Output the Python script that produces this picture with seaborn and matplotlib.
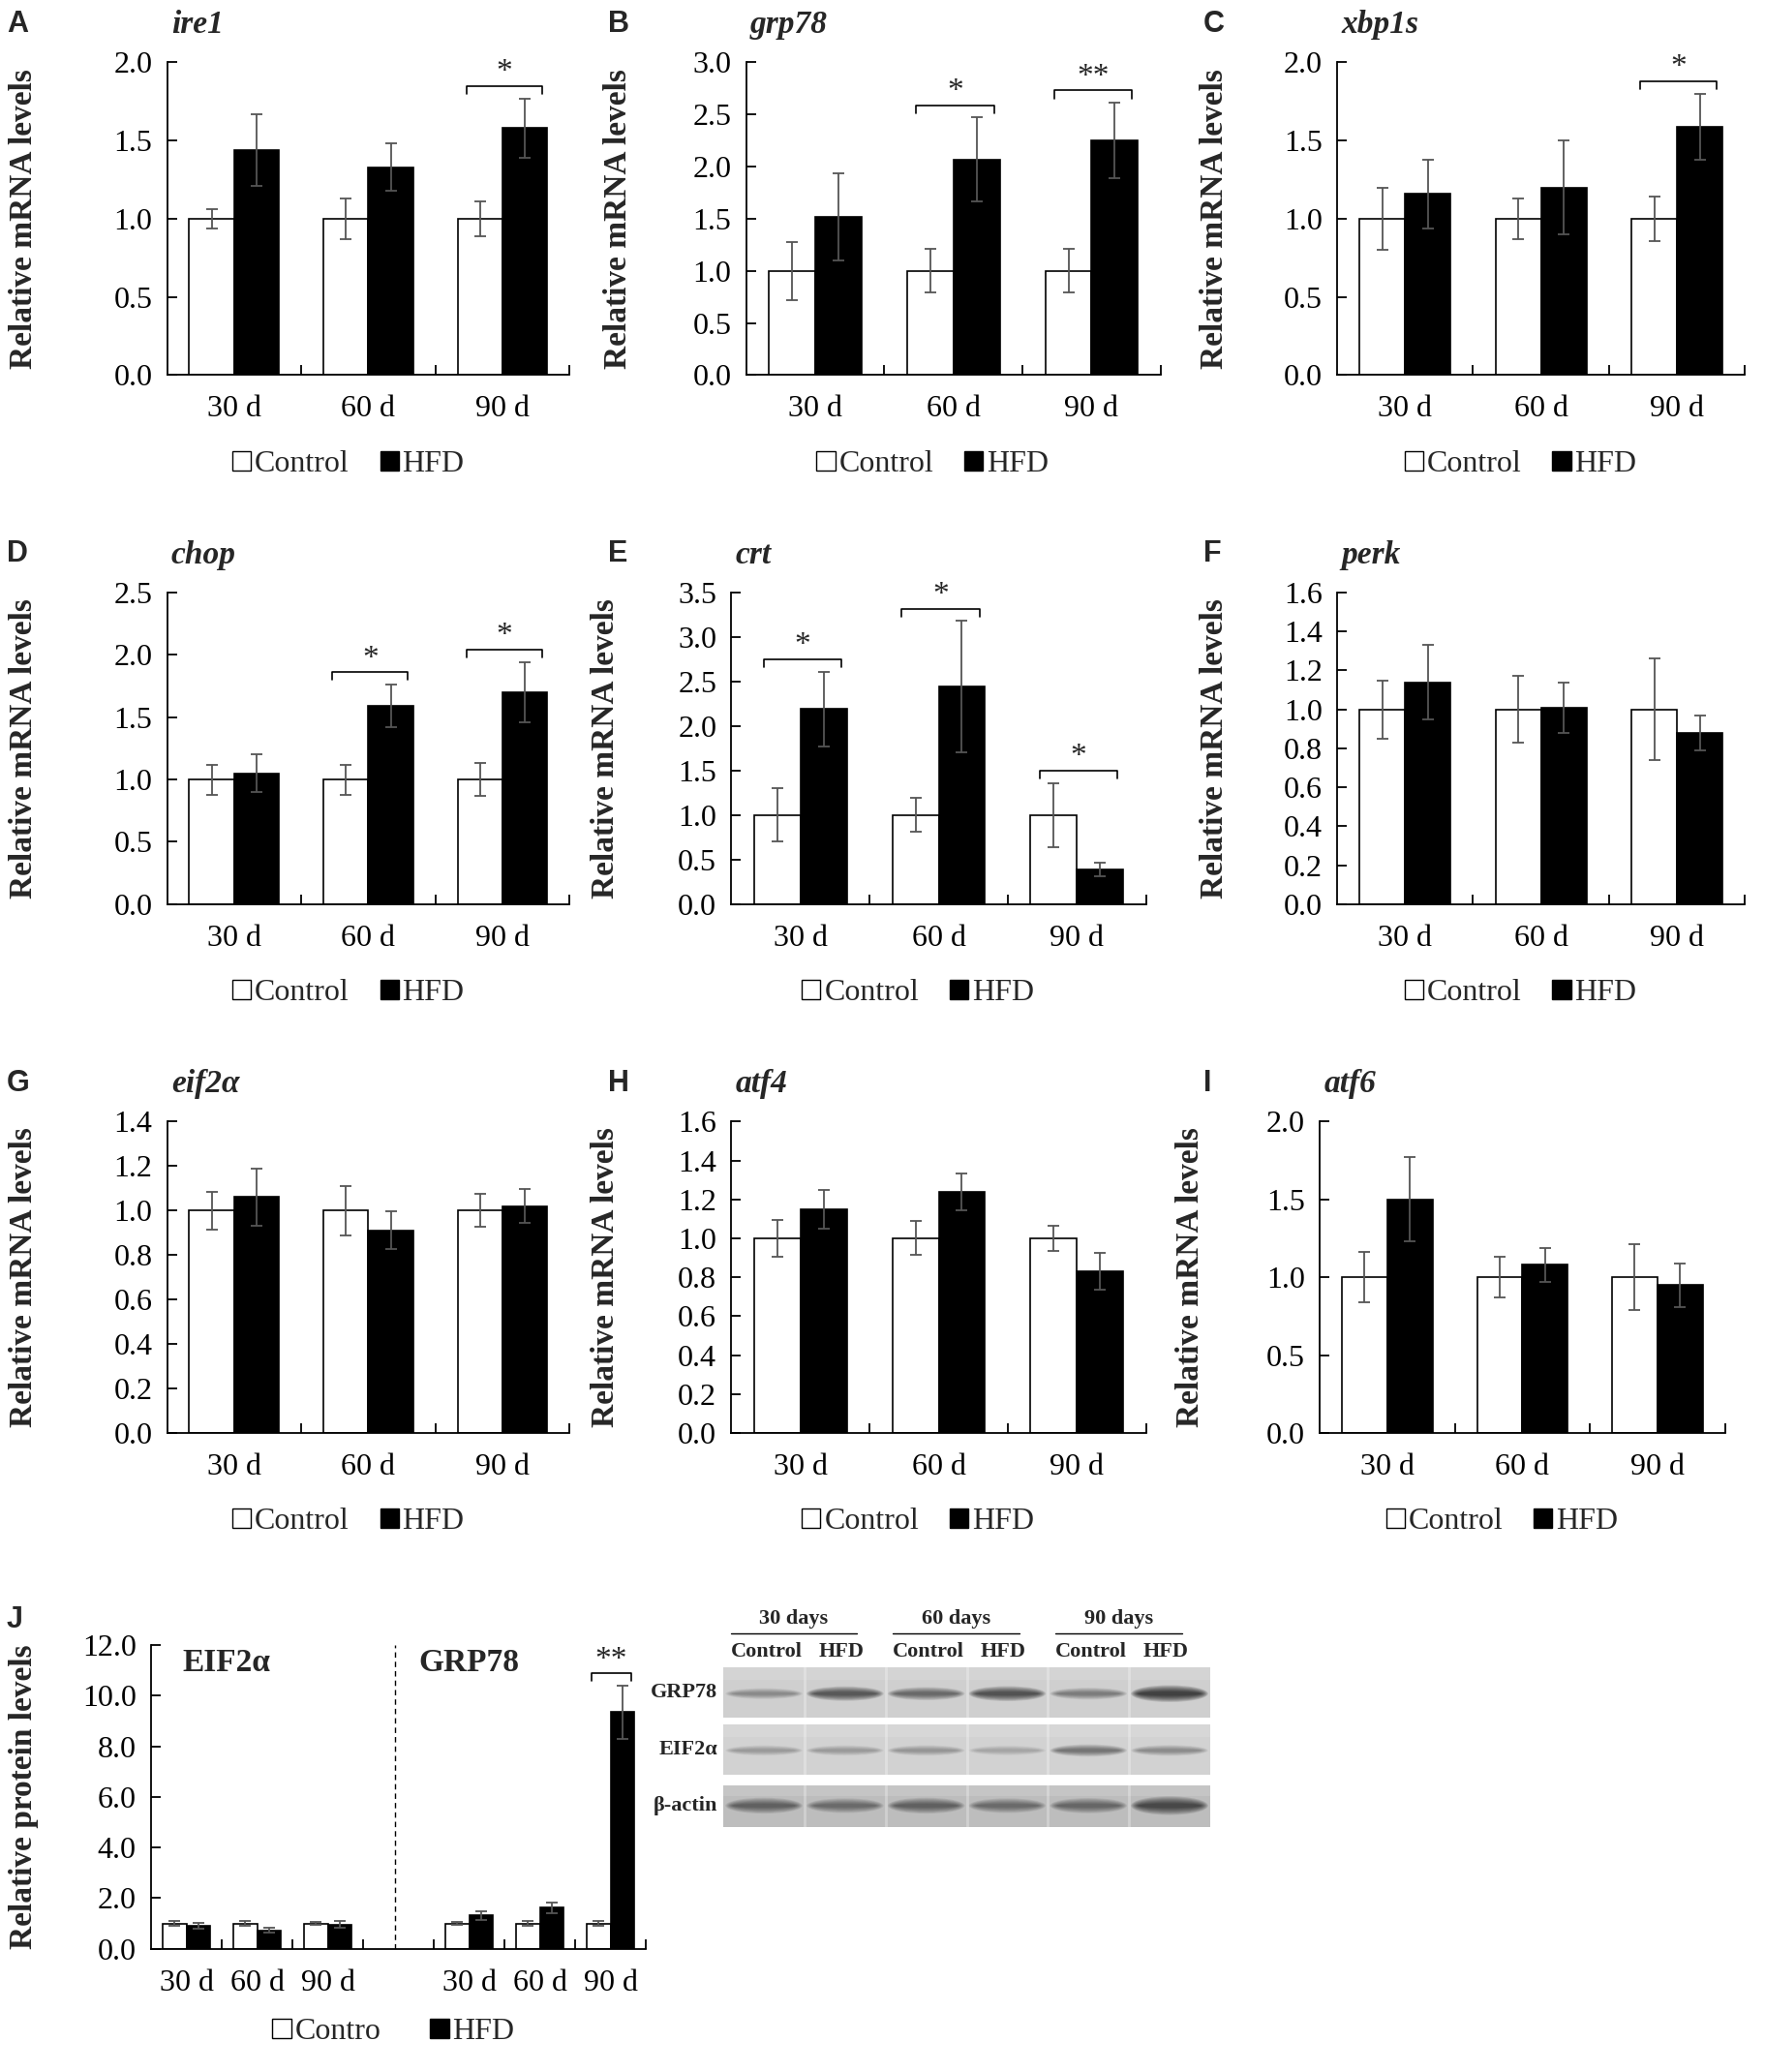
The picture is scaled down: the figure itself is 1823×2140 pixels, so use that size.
"""
ER stress gene / protein expression panels (A-J) with a western blot strip.
"""

import matplotlib
matplotlib.use("Agg")
import matplotlib.pyplot as plt
import seaborn as sns
import numpy as np
import pandas as pd
from matplotlib.patches import Patch, Rectangle, Ellipse

sns.set_theme(style="white")
plt.rcParams['font.family'] = ['Liberation Serif', 'DejaVu Serif']
plt.rcParams['axes.edgecolor'] = 'black'

# ---------------- data ----------------
days = ['30 d', '60 d', '90 d']
groups = ['Control', 'HFD']

ire1_ctrl = [1.0, 1.0, 1.0]
ire1_ctrl_err = [0.06, 0.13, 0.11]
ire1_hfd = [1.44, 1.33, 1.58]
ire1_hfd_err = [0.23, 0.15, 0.19]
ire1_sig = ['', '', '*']

grp78_ctrl = [1.0, 1.0, 1.0]
grp78_ctrl_err = [0.28, 0.21, 0.21]
grp78_hfd = [1.52, 2.07, 2.25]
grp78_hfd_err = [0.42, 0.40, 0.36]
grp78_sig = ['', '*', '**']

xbp1s_ctrl = [1.0, 1.0, 1.0]
xbp1s_ctrl_err = [0.20, 0.13, 0.14]
xbp1s_hfd = [1.16, 1.20, 1.59]
xbp1s_hfd_err = [0.22, 0.30, 0.21]
xbp1s_sig = ['', '', '*']

chop_ctrl = [1.0, 1.0, 1.0]
chop_ctrl_err = [0.12, 0.12, 0.13]
chop_hfd = [1.05, 1.59, 1.70]
chop_hfd_err = [0.15, 0.17, 0.24]
chop_sig = ['', '*', '*']

crt_ctrl = [1.0, 1.0, 1.0]
crt_ctrl_err = [0.30, 0.19, 0.36]
crt_hfd = [2.19, 2.44, 0.39]
crt_hfd_err = [0.42, 0.74, 0.08]
crt_sig = ['*', '*', '*']

perk_ctrl = [1.0, 1.0, 1.0]
perk_ctrl_err = [0.15, 0.17, 0.26]
perk_hfd = [1.14, 1.01, 0.88]
perk_hfd_err = [0.19, 0.13, 0.09]
perk_sig = ['', '', '']

eif2a_ctrl = [1.0, 1.0, 1.0]
eif2a_ctrl_err = [0.085, 0.11, 0.075]
eif2a_hfd = [1.06, 0.91, 1.02]
eif2a_hfd_err = [0.13, 0.085, 0.075]
eif2a_sig = ['', '', '']

atf4_ctrl = [1.0, 1.0, 1.0]
atf4_ctrl_err = [0.095, 0.087, 0.065]
atf4_hfd = [1.15, 1.24, 0.83]
atf4_hfd_err = [0.10, 0.095, 0.095]
atf4_sig = ['', '', '']

atf6_ctrl = [1.0, 1.0, 1.0]
atf6_ctrl_err = [0.16, 0.13, 0.21]
atf6_hfd = [1.50, 1.08, 0.95]
atf6_hfd_err = [0.27, 0.11, 0.14]
atf6_sig = ['', '', '']

# panel J (protein levels), EIF2a then GRP78
prot_slots = ['e30', 'e60', 'e90', 'gap', 'g30', 'g60', 'g90']
prot_ticklabels = ['30 d', '60 d', '90 d', '', '30 d', '60 d', '90 d']
prot_keys = ['e30', 'e60', 'e90', 'g30', 'g60', 'g90']
prot_ctrl = [1.0, 1.0, 1.0, 1.0, 1.0, 1.0]
prot_ctrl_err = [0.10, 0.10, 0.05, 0.05, 0.10, 0.10]
prot_hfd = [0.90, 0.72, 0.96, 1.32, 1.62, 9.35]
prot_hfd_err = [0.12, 0.10, 0.12, 0.17, 0.20, 1.05]
prot_sig = ['', '', '', '', '', '**']

# western blot band strength per lane (30d C, 30d H, 60d C, 60d H, 90d C, 90d H)
blot_rows = ['GRP78', 'EIF2α', 'β-actin']
blot_days = ['30 days', '60 days', '90 days']
grp78_band = [0.35, 0.75, 0.6, 0.8, 0.45, 1.0]
eif2a_band = [0.28, 0.28, 0.3, 0.22, 0.5, 0.35]
actin_band = [0.6, 0.5, 0.6, 0.5, 0.55, 0.85]

# ---------------- layout helpers ----------------
W, H = 1320.0, 1563.0
fig = plt.figure(figsize=(18.23, 21.40), dpi=100)

FS = 23
ERR_COLOR = '#555555'


def box(x0, x1, yt, yb):
    return [x0 / W, 1 - yb / H, (x1 - x0) / W, (yb - yt) / H]


def add_letter(letter, x, y):
    fig.text(x / W, 1 - y / H, letter, fontsize=22, fontweight='bold',
             family=['Liberation Sans', 'DejaVu Sans'], ha='left', va='center')


def add_ylabel(text, x, yt, yb):
    fig.text(x / W, 1 - (yt + yb) / 2 / H, text, rotation=90, fontsize=24,
             fontweight='bold', ha='center', va='center')


def style_axes(ax, ymax, step, nslots):
    ax.set_ylim(0, ymax)
    ax.set_xlim(-0.5, nslots - 0.5)
    ticks = np.arange(0, ymax + step / 2, step)
    ax.set_yticks(ticks)
    ax.set_yticklabels([f'{t:.1f}' for t in ticks])
    ax.set_xticks(np.arange(0.5, nslots, 1.0), minor=True)
    for s in ['top', 'right']:
        ax.spines[s].set_visible(False)
    for s in ['left', 'bottom']:
        ax.spines[s].set_linewidth(1.3)
        ax.spines[s].set_color('black')
    ax.tick_params(axis='y', direction='in', length=7, width=1.3, labelsize=FS, pad=11,
                   left=True, colors='black')
    ax.tick_params(axis='x', which='major', length=0, labelsize=FS, pad=15, colors='black')
    ax.tick_params(axis='x', which='minor', direction='in', length=7, width=1.3,
                   bottom=True, color='black')
    ax.set_xlabel('')
    ax.set_ylabel('')
    ax.grid(False)


def draw_bars(ax, slots, order, ctrl, ctrl_err, hfd, hfd_err, sig, ymax):
    df = pd.DataFrame({'slot': slots * 2,
                       'group': ['Control'] * len(slots) + ['HFD'] * len(slots),
                       'value': ctrl + hfd})
    sns.barplot(data=df, x='slot', y='value', hue='group', order=order, hue_order=groups,
                palette={'Control': 'white', 'HFD': 'black'}, saturation=1,
                edgecolor='black', linewidth=1.2, width=0.67, gap=0,
                errorbar=None, legend=False, ax=ax)
    errs = [dict(zip(slots, ctrl_err)), dict(zip(slots, hfd_err))]
    bars_at = {}
    bar_containers = list(ax.containers)
    for h, cont in enumerate(bar_containers):
        for bar in cont:
            xc = bar.get_x() + bar.get_width() / 2
            key = order[int(round(xc))]
            bars_at[(key, h)] = bar
            ax.errorbar(xc, bar.get_height(), yerr=errs[h][key], fmt='none',
                        ecolor=ERR_COLOR, elinewidth=1.3, capsize=4.5, capthick=1.3, zorder=5)
    # significance brackets
    for key, mark in zip(slots, sig):
        if not mark:
            continue
        cb, hb = bars_at[(key, 0)], bars_at[(key, 1)]
        w = cb.get_width()
        x0 = cb.get_x() + 0.2 * w
        x1 = hb.get_x() + 0.88 * w
        top = max(cb.get_height() + errs[0][key], hb.get_height() + errs[1][key])
        yb = top + 0.04 * ymax
        leg = 0.025 * ymax
        ax.plot([x0, x0, x1, x1], [yb - leg, yb, yb, yb - leg], color='black', lw=1.2,
                clip_on=False)
        ax.text((x0 + x1) / 2, yb + 0.018 * ymax, mark, ha='center', va='baseline',
                fontsize=24, clip_on=False)


def add_legend(ax, labels, x, y, colspace=1.0):
    handles = [Patch(facecolor='white', edgecolor='black', linewidth=1.0),
               Patch(facecolor='black', edgecolor='black', linewidth=1.0)]
    ax.legend(handles, labels, loc='center', bbox_to_anchor=(x, y), ncol=2, frameon=False,
              fontsize=FS, handlelength=0.6, handleheight=0.6, handletextpad=0.12,
              columnspacing=colspace, borderaxespad=0, borderpad=0)


# ---------------- mRNA panels ----------------
panels = [
    ('A', 'ire1', ire1_ctrl, ire1_ctrl_err, ire1_hfd, ire1_hfd_err, ire1_sig, 2.0, 0.5,
     (125, 426, 47, 283), 18, 5, 18),
    ('B', 'grp78', grp78_ctrl, grp78_ctrl_err, grp78_hfd, grp78_hfd_err, grp78_sig, 3.0, 0.5,
     (558, 868, 47, 283), 462, 455, 18),
    ('C', 'xbp1s', xbp1s_ctrl, xbp1s_ctrl_err, xbp1s_hfd, xbp1s_hfd_err, xbp1s_sig, 2.0, 0.5,
     (1000, 1305, 47, 283), 908, 900, 18),
    ('D', 'chop', chop_ctrl, chop_ctrl_err, chop_hfd, chop_hfd_err, chop_sig, 2.5, 0.5,
     (125, 426, 447, 682), 18, 5, 418),
    ('E', 'crt', crt_ctrl, crt_ctrl_err, crt_hfd, crt_hfd_err, crt_sig, 3.5, 0.5,
     (547, 857, 447, 682), 453, 455, 418),
    ('F', 'perk', perk_ctrl, perk_ctrl_err, perk_hfd, perk_hfd_err, perk_sig, 1.6, 0.2,
     (1000, 1305, 447, 682), 908, 900, 418),
    ('G', 'eif2α', eif2a_ctrl, eif2a_ctrl_err, eif2a_hfd, eif2a_hfd_err, eif2a_sig, 1.4, 0.2,
     (125, 426, 846, 1081), 18, 5, 817),
    ('H', 'atf4', atf4_ctrl, atf4_ctrl_err, atf4_hfd, atf4_hfd_err, atf4_sig, 1.6, 0.2,
     (547, 857, 846, 1081), 453, 455, 817),
    ('I', 'atf6', atf6_ctrl, atf6_ctrl_err, atf6_hfd, atf6_hfd_err, atf6_sig, 2.0, 0.5,
     (987, 1290, 846, 1081), 890, 900, 817),
]

for (letter, title, c, ce, hv, he, sig, ymax, step, bx, ylx, lx, ly) in panels:
    ax = fig.add_axes(box(*bx))
    draw_bars(ax, days, days, c, ce, hv, he, sig, ymax)
    style_axes(ax, ymax, step, 3)
    ax.set_xticks(range(3))
    ax.set_xticklabels(days)
    ax.text(0.01, 1.12, title, transform=ax.transAxes, fontsize=24, fontweight='bold',
            fontstyle='italic', ha='left', va='center')
    add_legend(ax, ['Control', 'HFD'], 0.45, -0.285)
    add_ylabel('Relative mRNA levels', ylx, bx[2], bx[3])
    add_letter(letter, lx, ly)

# ---------------- panel J ----------------
bxj = (113, 483, 1241, 1470)
axj = fig.add_axes(box(*bxj))
draw_bars(axj, prot_keys, prot_slots, prot_ctrl, prot_ctrl_err, prot_hfd, prot_hfd_err,
          prot_sig, 12.0)
style_axes(axj, 12.0, 2.0, 7)
axj.set_xticks(range(7))
axj.set_xticklabels(prot_ticklabels)
axj.axvline(2.95, color='black', lw=1.0, ls=(0, (4, 3)))
axj.text(-0.05, 11.3, 'EIF2α', fontsize=24, fontweight='bold', ha='left', va='center')
axj.text(3.28, 11.3, 'GRP78', fontsize=24, fontweight='bold', ha='left', va='center')
add_legend(axj, ['Contro', 'HFD'], 0.49, -0.275, colspace=1.6)
add_ylabel('Relative protein levels', 18, bxj[2], bxj[3])
add_letter('J', 5, 1222)

# ---------------- western blot ----------------
axb = fig.add_axes(box(541, 905, 1258, 1378))
axb.set_xlim(0, 6)
axb.set_ylim(490, 0)
axb.axis('off')

strips = [(0, 153, '#cfcfcf', grp78_band, 80, 40),
          (176, 330, '#d2d2d2', eif2a_band, 255, 40),
          (363, 490, '#bdbdbd', actin_band, 425, 48)]
for (y0, y1, base, bands, yc, bh), name in zip(strips, blot_rows):
    axb.add_patch(Rectangle((0, y0), 6, y1 - y0, facecolor=base, edgecolor='none'))
    # soft shading along the strip
    axb.add_patch(Rectangle((0, y0), 6, (y1 - y0) * 0.25, facecolor='white',
                            edgecolor='none', alpha=0.12))
    for lane, strength in enumerate(bands):
        for k in range(8):
            f = 1 - 0.11 * k
            axb.add_patch(Ellipse((lane + 0.5, yc), 0.95 * (0.75 + 0.25 * f),
                                  bh * (0.6 + 0.7 * strength) * f,
                                  facecolor='black', edgecolor='none',
                                  alpha=min(0.9, 0.13 * strength)))
    axb.text(-0.07, (y0 + y1) / 2, name, ha='right', va='center', fontsize=16,
             fontweight='bold', clip_on=False)
for lane in range(1, 6):
    axb.plot([lane, lane], [0, 490], color='white', lw=2, alpha=0.3)
for g, label in enumerate(blot_days):
    x0, x1 = 2 * g + 0.09, 2 * g + 1.65
    axb.plot([x0, x1], [-105, -105], color='black', lw=1.0, clip_on=False)
    axb.text((x0 + x1) / 2, -150, label, ha='center', va='center', fontsize=16,
             fontweight='bold', clip_on=False)
    axb.text(2 * g + 0.53, -49, 'Control', ha='center', va='center', fontsize=16,
             fontweight='bold', clip_on=False)
    axb.text(2 * g + 1.45, -49, 'HFD', ha='center', va='center', fontsize=16,
             fontweight='bold', clip_on=False)

fig.savefig('out.png', dpi=100, facecolor='white')
